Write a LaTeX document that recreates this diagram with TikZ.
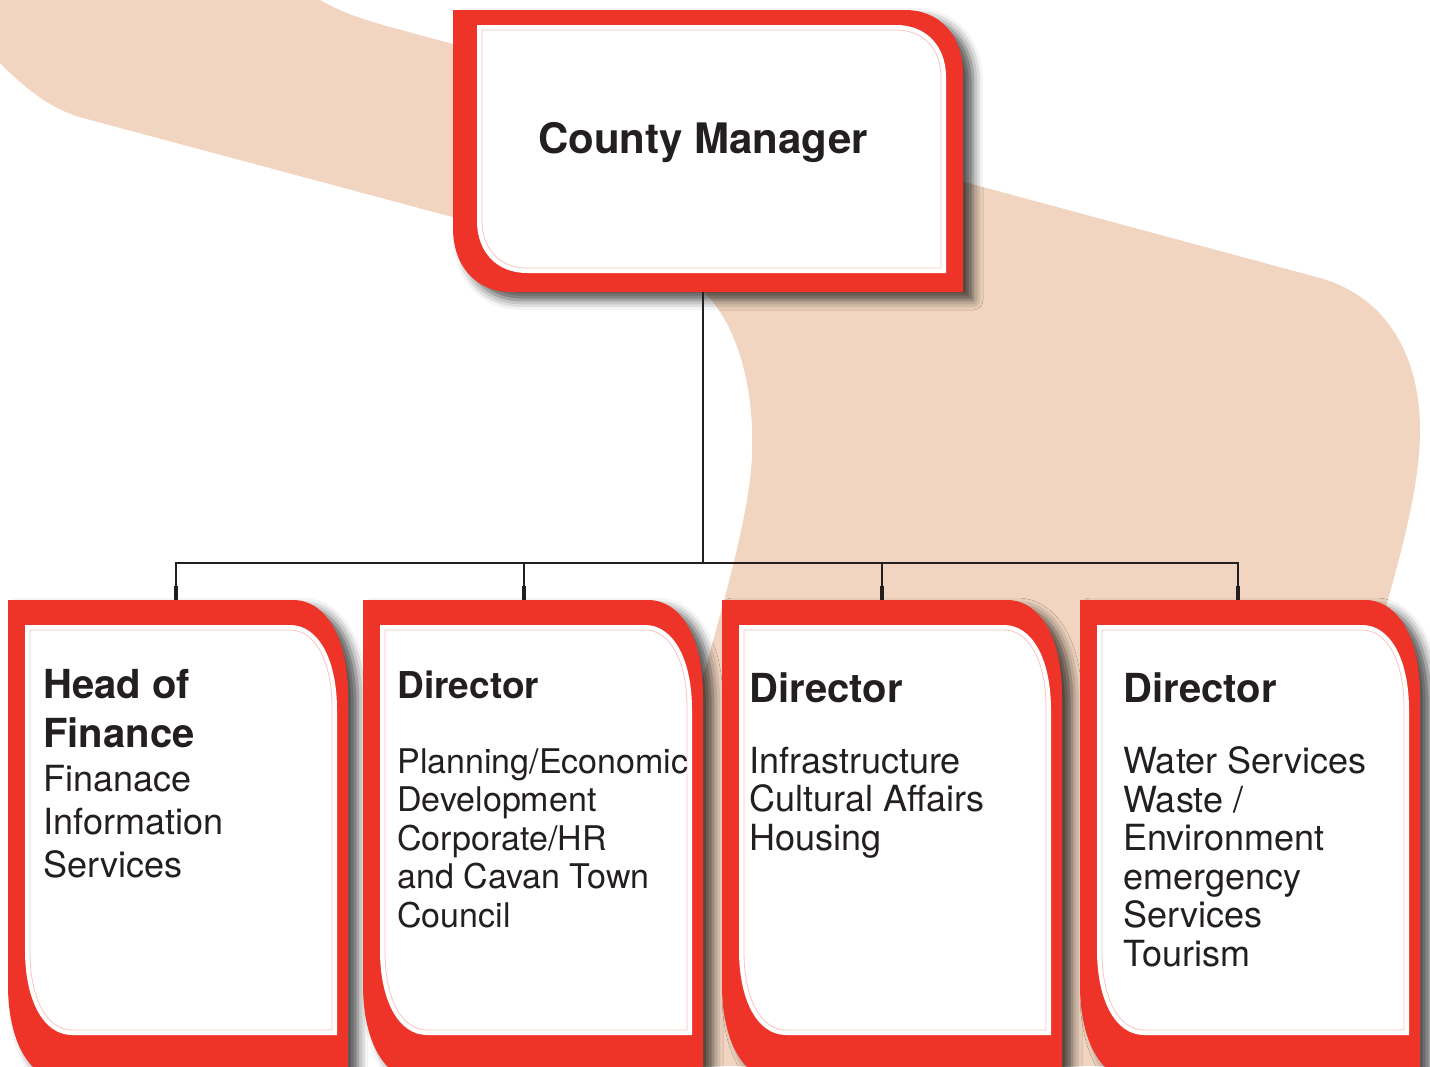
\documentclass[tikz,border=0pt]{standalone}
\usepackage{fontspec}
\setmainfont{TeX Gyre Heros}
\usetikzlibrary{positioning,shadows.blur}

\definecolor{boxred}{HTML}{EE3429}
\definecolor{bandtan}{HTML}{F1D5C0}
\definecolor{inkgray}{HTML}{231F20}
\definecolor{rimpink}{HTML}{F7C6BE}

% frame with rounded top right and bottom left corners
\newcommand{\cardpath}[6]{(#1,#2) -- ({#3-#5},#2) .. controls ({#3-0.4*#5},#2) and (#3,{#2+0.4*#6}) .. (#3,{#2+#6}) -- (#3,#4) -- ({#1+#5},#4) .. controls ({#1+0.4*#5},#4) and (#1,{#4-0.4*#6}) .. (#1,{#4-#6}) -- cycle}

\newcommand{\card}[1]{%
  \fill[boxred,card shadow] \cardpath{#1}{600}{#1+340}{1080}{55}{95};
  \fill[white] \cardpath{#1+17}{625}{#1+329}{1035}{47}{85};
  \draw[rim] \cardpath{#1+22}{630}{#1+324}{1030}{42}{78};}

\begin{document}
\begin{tikzpicture}[x=0.5pt,y=-0.5pt,
  card shadow/.style={blur shadow={shadow xshift=5pt,shadow yshift=-4pt,shadow blur radius=5pt,shadow opacity=70}},
  rim/.style={draw=rimpink,line width=0.4pt},
  tree/.style={draw=inkgray,line width=1pt},
  stub/.style={draw=inkgray,line width=1.7pt},
  mgr text/.style={font=\fontsize{21}{25}\selectfont\bfseries,text=inkgray,anchor=base,inner sep=0pt},
  head text/.style={font=\fontsize{20}{24.5}\selectfont\bfseries,text=inkgray,anchor=base west,align=left,inner sep=0pt},
  body text/.style={font=\fontsize{18}{19.25}\selectfont,text=inkgray,anchor=base west,align=left,inner sep=0pt}]

  \useasboundingbox (0,0) rectangle (1430,1066);
  \clip (0,0) rectangle (1430,1066);

  % background band
  \fill[bandtan] (0,0) -- (320,0) .. controls (345,14) and (365,20) .. (390,27) -- (1320,278)
    .. controls (1390,298) and (1420,360) .. (1420,430) .. controls (1420,480) and (1405,540) .. (1385,610)
    -- (1248,1066) -- (578,1066) -- (705,670) .. controls (730,580) and (752,500) .. (752,450)
    .. controls (755,360) and (720,289) .. (680,278) -- (83,118) .. controls (50,109) and (25,88) .. (0,63) -- cycle;

  % county manager
  \fill[boxred,card shadow] \cardpath{453}{10}{963}{292}{58}{64};
  \fill[white] \cardpath{477}{25}{946}{273}{50}{52};
  \draw[rim] \cardpath{482}{30}{941}{268}{45}{47};
  \node[mgr text] (mgr) at (703,153) {County Manager};

  % directorates (nodes sit on the baseline of their last line)
  \foreach \x in {8,363,722,1080} {\card{\x}}

  \node[head text] (fin-head) at (43,747) {Head of\\Finance};
  \node[body text,font=\fontsize{18}{21.5}\selectfont] (fin-body) at (43,877) {Finanace\\Information\\Services};
  \node[head text,font=\fontsize{18.5}{22}\selectfont\bfseries] (plan-head) at (397,698) {Director};
  \node[body text,font=\fontsize{17}{19.25}\selectfont] (plan-body) at (397,927) {Planning/Economic\\Development\\Corporate/HR\\and Cavan Town\\Council};
  \node[head text] (infra-head) at (749,702) {Director};
  \node[body text] (infra-body) at (749,850) {Infrastructure\\Cultural Affairs\\Housing};
  \node[head text] (water-head) at (1123,702) {Director};
  \node[body text] (water-body) at (1123,966) {Water Services\\Waste /\\Environment\\emergency\\Services\\Tourism};

  % reporting lines
  \coordinate (mgr-foot) at (703,292);
  \coordinate (hub) at (703,563);
  \coordinate (fin-top) at (176,600);
  \coordinate (plan-top) at (524,600);
  \coordinate (infra-top) at (882,600);
  \coordinate (water-top) at (1238,600);
  \draw[tree] (mgr-foot) -- (hub);
  \draw[tree] (fin-top) |- (hub) -| (water-top);
  \draw[tree] (plan-top) -- (plan-top |- hub);
  \draw[tree] (infra-top) -- (infra-top |- hub);
  \foreach \c in {fin-top,plan-top,infra-top,water-top} \draw[stub] (\c) -- ++(0,-14);

\end{tikzpicture}
\end{document}
